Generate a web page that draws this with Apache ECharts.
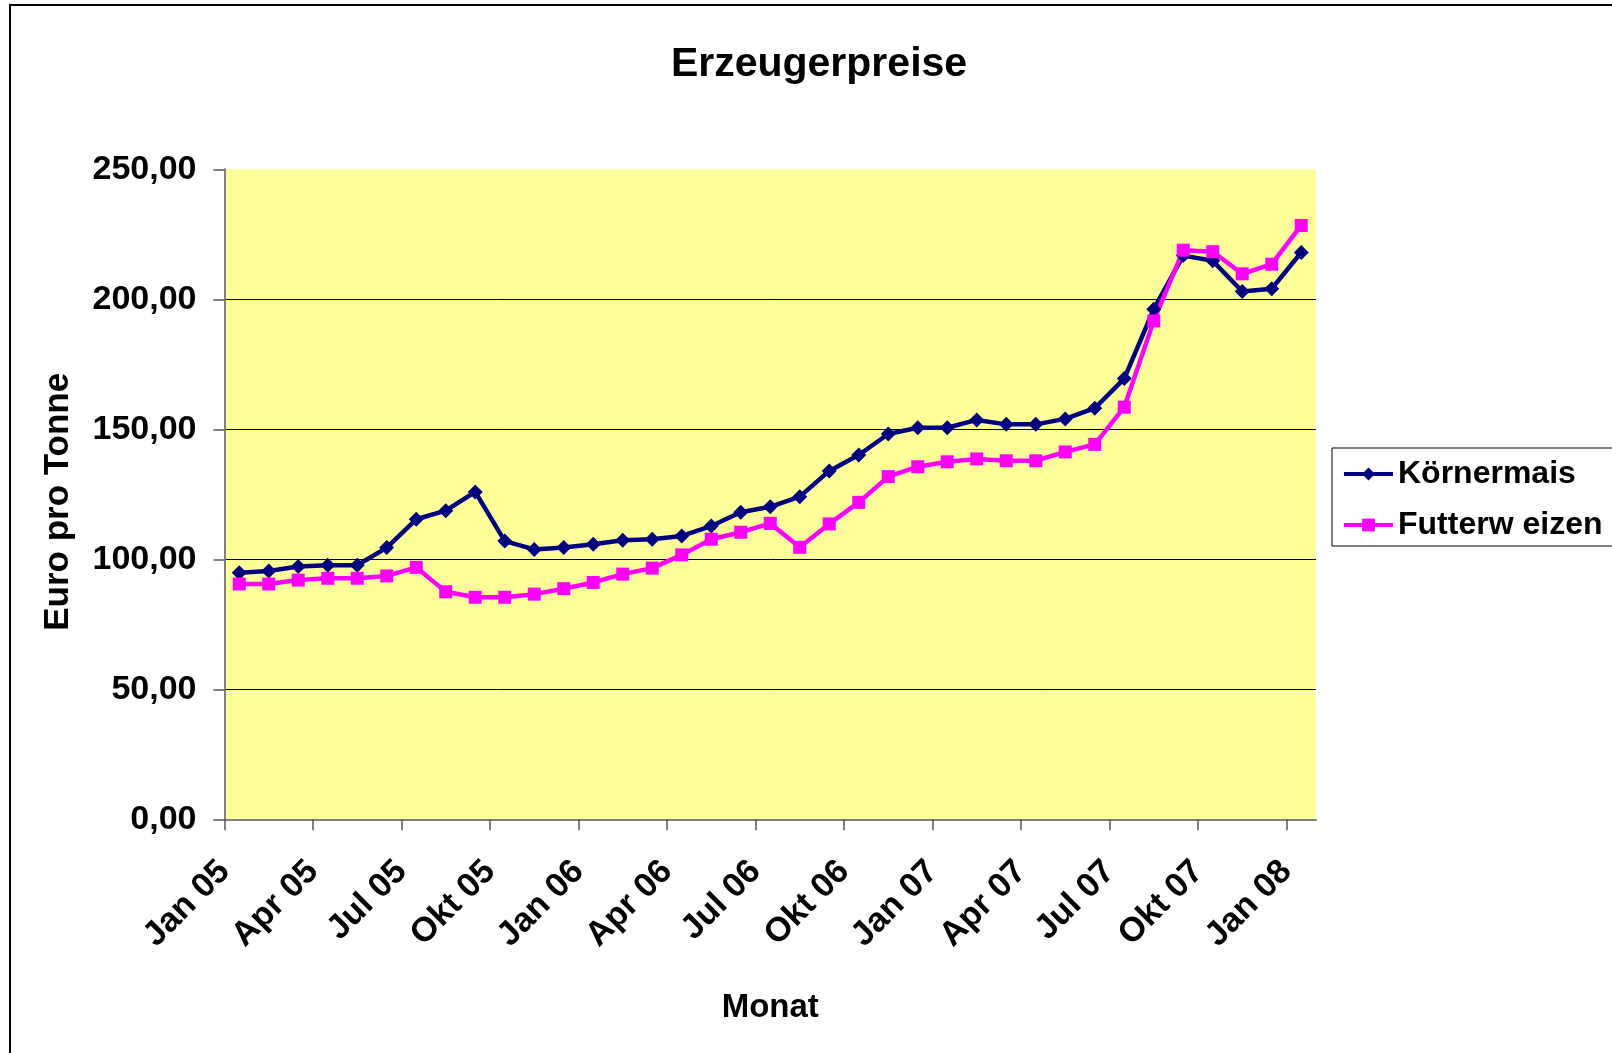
<!DOCTYPE html>
<html>
<head>
<meta charset="utf-8">
<title>Erzeugerpreise</title>
<script src="https://cdn.jsdelivr.net/npm/echarts@6/dist/echarts.min.js"></script>
<style>
  html, body { margin: 0; padding: 0; background: #fff; }
  #chart { width: 1612px; height: 1053px; }
</style>
</head>
<body>
<div id="chart"></div>
<script>
// Monate Jan 05 .. Jan 08
const months = [
  'Jan 05', 'Feb 05', 'Mrz 05', 'Apr 05', 'Mai 05', 'Jun 05', 'Jul 05', 'Aug 05', 'Sep 05', 'Okt 05', 'Nov 05', 'Dez 05',
  'Jan 06', 'Feb 06', 'Mrz 06', 'Apr 06', 'Mai 06', 'Jun 06', 'Jul 06', 'Aug 06', 'Sep 06', 'Okt 06', 'Nov 06', 'Dez 06',
  'Jan 07', 'Feb 07', 'Mrz 07', 'Apr 07', 'Mai 07', 'Jun 07', 'Jul 07', 'Aug 07', 'Sep 07', 'Okt 07', 'Nov 07', 'Dez 07',
  'Jan 08'
]
const koernermais = [
  94.8, 95.5, 97.2, 97.7, 97.7, 104.5, 115.4, 118.7, 125.9, 107.0, 103.8, 104.5,
  105.8, 107.3, 107.7, 109.0, 112.8, 118.1, 120.2, 124.1, 134.0, 140.1, 148.2, 150.6,
  150.6, 153.6, 151.9, 151.9, 154.0, 158.1, 169.5, 196.2, 216.8, 214.8, 203.0, 204.1,
  218.0
]
const futterweizen = [
  90.5, 90.5, 92.0, 92.7, 92.7, 93.6, 96.9, 87.5, 85.4, 85.4, 86.6, 88.7,
  91.1, 94.3, 96.6, 101.7, 107.7, 110.4, 113.8, 104.6, 113.6, 121.9, 131.8, 135.6,
  137.5, 138.6, 137.9, 137.9, 141.3, 144.2, 158.5, 191.7, 218.9, 218.3, 209.8, 213.5,
  228.4
]
// Achsenbeschriftung: alle 3 Monate, an der Kategoriegrenze
const tickPositions = [0, 3, 6, 9, 12, 15, 18, 21, 24, 27, 30, 33, 36]
const tickLabels = ['Jan 05', 'Apr 05', 'Jul 05', 'Okt 05', 'Jan 06', 'Apr 06', 'Jul 06', 'Okt 06', 'Jan 07', 'Apr 07', 'Jul 07', 'Okt 07', 'Jan 08']
const yTicks = [0, 50, 100, 150, 200, 250]

const font = '"Liberation Sans", Arial, sans-serif'
const chart = echarts.init(document.getElementById('chart'))

chart.setOption({
  animation: false,
  textStyle: { fontFamily: font },
  title: {
    text: 'Erzeugerpreise',
    left: 814,
    top: 39,
    textAlign: 'center',
    textStyle: { fontFamily: font, fontSize: 41, fontWeight: 'bold', color: '#000' }
  },
  graphic: [
    {
      type: 'rect',
      shape: { x: 10, y: 5, width: 1700, height: 1200 },
      style: { fill: 'none', stroke: '#000', lineWidth: 2 },
      silent: true
    }
  ],
  legend: {
    orient: 'vertical',
    left: 1332,
    top: 448,
    padding: [10, 80, 5, 10],
    itemGap: 19,
    itemWidth: 49,
    itemHeight: 16,
    borderColor: '#000',
    borderWidth: 1,
    backgroundColor: '#fff',
    lineStyle: { width: 4 },
    textStyle: { fontFamily: font, fontSize: 32, fontWeight: 'bold', color: '#000' },
    data: ['Körnermais', 'Futterw eizen']
  },
  grid: {
    left: 224.5,
    right: 296,
    top: 169.3,
    bottom: 233.7,
    show: true,
    backgroundColor: '#FFFF99',
    borderWidth: 0
  },
  xAxis: [
    {
      type: 'category',
      data: months,
      boundaryGap: true,
      position: 'bottom',
      axisLine: { show: false },
      axisTick: { show: false },
      axisLabel: { show: false },
      splitLine: { show: false }
    },
    {
      type: 'value',
      min: 0,
      max: months.length,
      position: 'bottom',
      name: 'Monat',
      nameLocation: 'middle',
      nameGap: 172,
      nameTextStyle: { fontFamily: font, fontSize: 33, fontWeight: 'bold', color: '#000' },
      axisLine: { show: true, lineStyle: { color: '#808080', width: 2 } },
      axisTick: {
        show: true,
        customValues: tickPositions,
        length: 11,
        lineStyle: { color: '#555', width: 1.5 }
      },
      axisLabel: {
        customValues: tickPositions,
        rotate: 45,
        margin: 47,
        fontFamily: font,
        fontSize: 34,
        fontWeight: 'bold',
        color: '#000',
        formatter: v => tickLabels[tickPositions.indexOf(v)]
      },
      splitLine: { show: false }
    }
  ],
  yAxis: {
    type: 'value',
    min: 0,
    max: 250,
    interval: 50,
    name: 'Euro pro Tonne',
    nameLocation: 'middle',
    nameGap: 149,
    nameTextStyle: { fontFamily: font, fontSize: 35, fontWeight: 'bold', color: '#000', padding: [0, 15, 0, 0] },
    axisLine: { show: true, lineStyle: { color: '#808080', width: 2 } },
    axisTick: { show: true, length: 11, lineStyle: { color: '#555', width: 1.5 } },
    axisLabel: {
      margin: 28,
      fontFamily: font,
      fontSize: 34,
      fontWeight: 'bold',
      color: '#000',
      formatter: v => yTicks.indexOf(v) >= 0 ? v.toFixed(2).replace('.', ',') : ''
    },
    splitLine: {
      show: true,
      showMinLine: false,
      showMaxLine: false,
      lineStyle: { color: '#000', width: 1 }
    }
  },
  series: [
    {
      name: 'Körnermais',
      type: 'line',
      xAxisIndex: 0,
      data: koernermais,
      symbol: 'diamond',
      symbolSize: 15,
      itemStyle: { color: '#000080' },
      lineStyle: { color: '#000080', width: 4.5 }
    },
    {
      name: 'Futterw eizen',
      type: 'line',
      xAxisIndex: 0,
      data: futterweizen,
      symbol: 'rect',
      symbolSize: 13,
      itemStyle: { color: '#FF00FF' },
      lineStyle: { color: '#FF00FF', width: 4.5 }
    }
  ]
})
</script>
</body>
</html>
